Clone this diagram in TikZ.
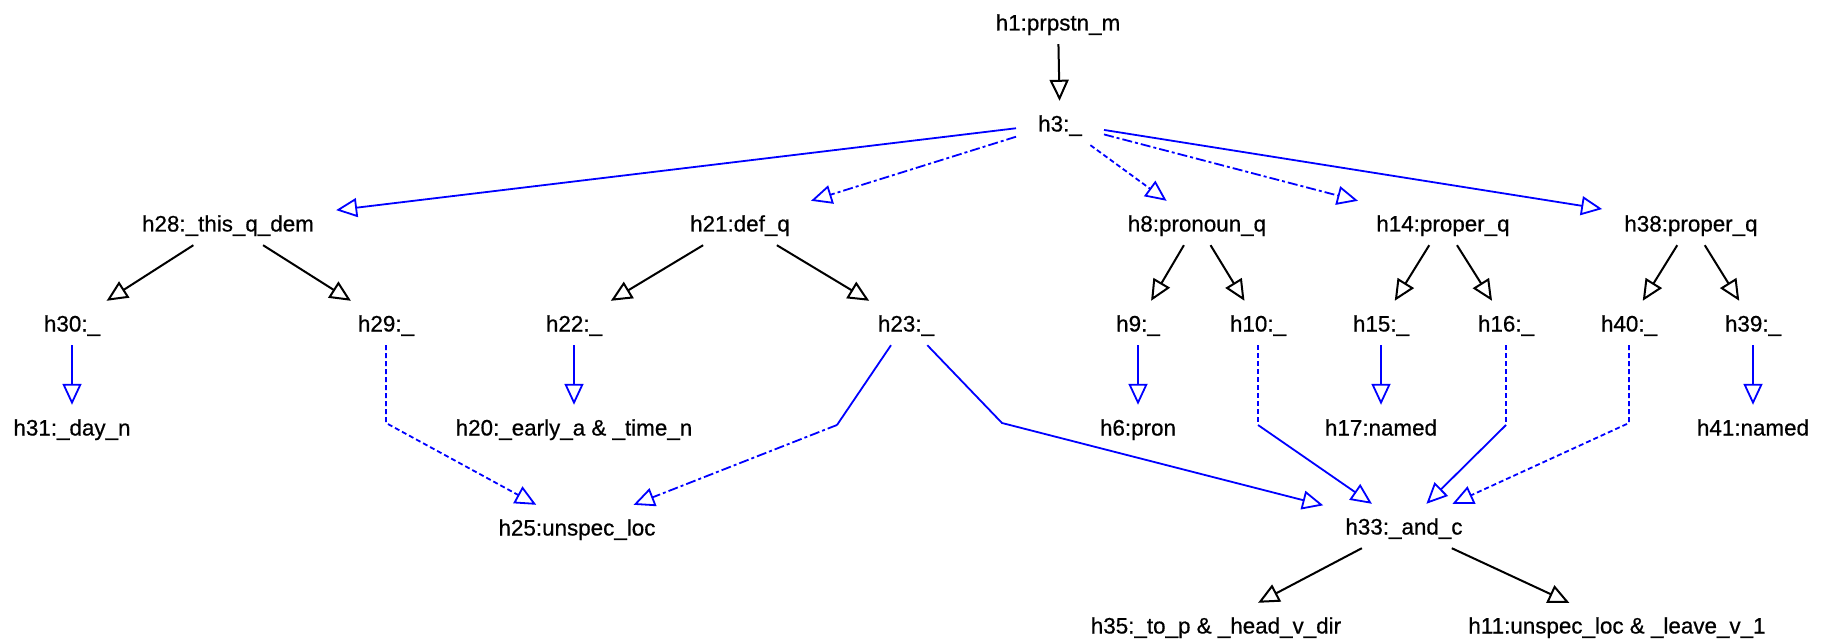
\documentclass[tikz,border=0pt]{standalone}
\usepackage{fontspec}
\setmainfont{Liberation Sans}
\newfontfamily\lblfont{Liberation Sans}[FakeBold=0.6]
\usetikzlibrary{arrows.meta}
\begin{document}
\begin{tikzpicture}[x=1pt,y=-1pt,
  lbl/.style={inner xsep=22pt, inner ysep=0pt, minimum height=44pt,
    text height=17pt, text depth=0pt, font=\lblfont\fontsize{22.4pt}{24pt}\selectfont},
  hd/.style={-{Triangle[open,length=21pt,width=19pt]}},
  tree/.style={hd, draw=black, line width=2pt},
  link/.style={hd, draw=blue, line width=1.8pt},
  seg/.style={draw=blue, line width=1.8pt},
  dsh/.style={dash pattern=on 5pt off 3pt},
  dshdot/.style={dash pattern=on 10pt off 3pt on 3pt off 3pt},
]
% canvas
\useasboundingbox (0,0) rectangle (1826,639);
\path[fill=white] (0,0) rectangle (1826,639);

% handles
\node[lbl] (h1)  at (1058,22)  {h1:prpstn\_m};
\node[lbl] (h3)  at (1060,123) {h3:\_};

\node[lbl] (h28) at (228,223)  {h28:\_this\_q\_dem};
\node[lbl] (h21) at (740,223)  {h21:def\_q};
\node[lbl] (h8)  at (1197,223) {h8:pronoun\_q};
\node[lbl] (h14) at (1443,223) {h14:proper\_q};
\node[lbl] (h38) at (1691,223) {h38:proper\_q};

\node[lbl] (h30) at (72,323)   {h30:\_};
\node[lbl] (h29) at (386,323)  {h29:\_};
\node[lbl] (h22) at (574,323)  {h22:\_};
\node[lbl] (h23) at (906,323)  {h23:\_};
\node[lbl] (h9)  at (1138,323) {h9:\_};
\node[lbl] (h10) at (1258,323) {h10:\_};
\node[lbl] (h15) at (1381,323) {h15:\_};
\node[lbl] (h16) at (1506,323) {h16:\_};
\node[lbl] (h40) at (1629,323) {h40:\_};
\node[lbl] (h39) at (1753,323) {h39:\_};

\node[lbl] (h31) at (72,427)   {h31:\_day\_n};
\node[lbl] (h20) at (574,427)  {h20:\_early\_a \& \_time\_n};
\node[lbl] (h6)  at (1138,427) {h6:pron};
\node[lbl] (h17) at (1381,427) {h17:named};
\node[lbl] (h41) at (1753,427) {h41:named};

\node[lbl] (h25) at (577,527)  {h25:unspec\_loc};
\node[lbl] (h33) at (1404,526) {h33:\_and\_c};

\node[lbl] (h35) at (1216,625) {h35:\_to\_p \& \_head\_v\_dir};
\node[lbl] (h11) at (1617,625) {h11:unspec\_loc \& \_leave\_v\_1};

% bend points of the routed links
\coordinate (b29)  at (386,423);
\coordinate (b23l) at (837,425);
\coordinate (b23r) at (1002,423);
\coordinate (b10)  at (1258,425);
\coordinate (b16)  at (1506,425);
\coordinate (b40)  at (1629,423);

% scope tree
\draw[tree] (h1) -- (h3);
\draw[tree] (h28) -- (h30);
\draw[tree] (h28) -- (h29);
\draw[tree] (h21) -- (h22);
\draw[tree] (h21) -- (h23);
\draw[tree] (h8) -- (h9);
\draw[tree] (h8) -- (h10);
\draw[tree] (h14) -- (h15);
\draw[tree] (h14) -- (h16);
\draw[tree] (h38) -- (h40);
\draw[tree] (h38) -- (h39);
\draw[tree] (h33) -- (h35);
\draw[tree] (h33) -- (h11);

% links from h3
\draw[link] (h3) -- (h28);
\draw[link, dshdot] (h3) -- (h21);
\draw[link, dsh] (h3) -- (h8);
\draw[link, dshdot] (h3) -- (h14);
\draw[link] (h3) -- (h38);

% direct links
\draw[link] (h30) -- (h31);
\draw[link] (h22) -- (h20);
\draw[link] (h9) -- (h6);
\draw[link] (h15) -- (h17);
\draw[link] (h39) -- (h41);

% routed links
\draw[link, dsh] (h29) -- (b29) -- (h25);
\draw[seg] (h23) -- (b23l);
\draw[link, dshdot] (b23l) -- (h25);
\draw[link] (h23) -- (b23r) -- (h33);
\draw[seg, dsh] (h10) -- (b10);
\draw[link] (b10) -- (h33);
\draw[seg, dsh] (h16) -- (b16);
\draw[link] (b16) -- (h33);
\draw[link, dsh] (h40) -- (b40) -- (h33);
\end{tikzpicture}
\end{document}
